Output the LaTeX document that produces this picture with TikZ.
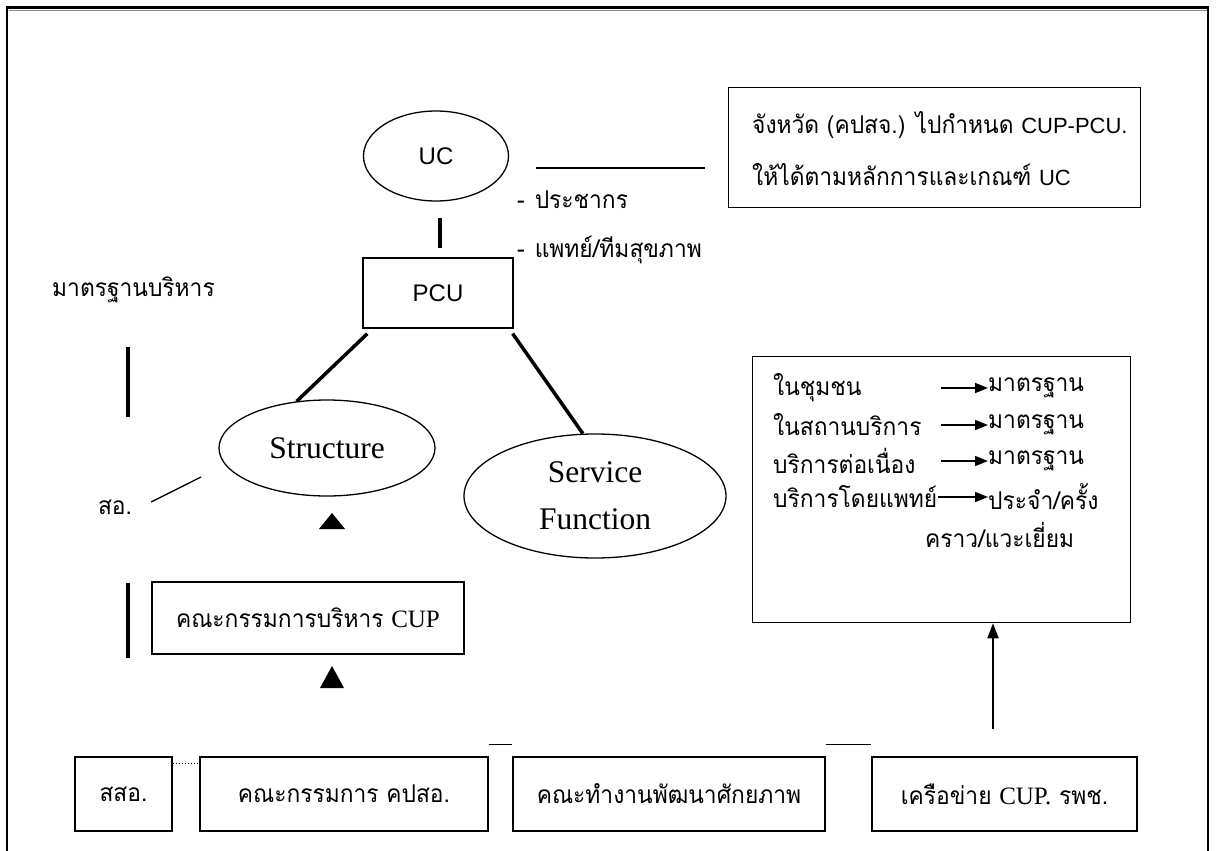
\documentclass[tikz,border=0pt]{standalone}
\usepackage{fontspec}
\newfontfamily\thaif[Script=Thai,FakeStretch=0.93]{Loma}
\newfontfamily\romf{Liberation Serif}
\newfontfamily\sansf{Liberation Sans}
\usetikzlibrary{shapes.geometric,arrows.meta}
\begin{document}
\begin{tikzpicture}[x=1pt,y=-1pt,
  box/.style={draw,line width=1.3pt,inner sep=0pt},
  oval/.style={draw,ellipse,line width=1.3pt,inner sep=0pt},
  heavy/.style={line width=3.5pt},
  light/.style={line width=1.3pt},
  thtext/.style={font=\thaif\fontsize{24.5}{30}\selectfont,inner sep=0pt},
  romtext/.style={font=\romf\fontsize{31.5}{47}\selectfont,inner sep=0pt},
  sanstext/.style={font=\sansf\fontsize{24}{28}\selectfont,inner sep=0pt},
  stdarrow/.style={line width=1.6pt,-{Triangle[length=13pt,width=10pt]}},
  marker/.style={fill=black}]
\useasboundingbox (0,0) rectangle (1216,851);
% outer frame, open at the bottom, with a faint inner rule along the top
\draw[line width=2.4pt] (7,851) -- (7,7.5) -- (1208,7.5) -- (1208,851);
\draw[line width=0.6pt,black!45] (8.5,10.5) -- (1206.5,10.5);

% UC and PCU
\node[oval,sanstext,minimum width=145,minimum height=90] (uc) at (436,156) {UC};
\node[box,sanstext,minimum width=150,minimum height=70] (pcu) at (438,293) {PCU};
\draw[heavy] ([yshift=-16pt]uc.south -| 440,0) -- ([yshift=9pt]pcu.north -| 440,0);

% population notes
\node[thtext,anchor=west] (pop) at (517,200) {-\hspace{10pt}ประชากร};
\node[thtext,anchor=west] (doc) at (517,250) {-\hspace{10pt}แพทย์/ทีมสุขภาพ};

% province box
\coordinate (provL) at (536,168);
\coordinate (provR) at (705,168);
\draw[light] (provL) -- (provR);
\node[box,anchor=north west,minimum width=412,minimum height=120] (prov) at (728,87) {};
\node[thtext,anchor=west] (prov1) at (752,125) {จังหวัด (คปสจ.) ไปกำหนด {\sansf\fontsize{22}{26}\selectfont CUP-PCU.}};
\node[thtext,anchor=west] (prov2) at (752,175) {ให้ได้ตามหลักการและเกณฑ์ {\sansf\fontsize{22}{26}\selectfont UC}};

% left column
\node[thtext,anchor=west] (mgmt) at (52,290) {มาตรฐานบริหาร};
\coordinate (barA1) at (128,347);
\coordinate (barA2) at (128,417);
\coordinate (barB1) at (128,583);
\coordinate (barB2) at (128,658);
\draw[heavy] (barA1) -- (barA2);
\draw[heavy] (barB1) -- (barB2);
\node[thtext] (so) at (115,507) {สอ.};
\coordinate (soEnd) at (201,477);
\draw[light] ([xshift=19pt,yshift=5pt]so.east) -- (soEnd);

% structure and service function
\node[oval,romtext,minimum width=216,minimum height=96] (st) at (327,448) {Structure};
\node[oval,romtext,minimum width=262,minimum height=124,align=center] (sf) at (595,496) {Service\\Function};
\draw[heavy] ([shift={(5pt,-5pt)}]pcu.south west) -- (st.123);
\draw[heavy] ([shift={(-1pt,-5pt)}]pcu.south east) -- (sf.101);

% markers
\fill[marker] (319,529) -- (345,529) -- (332,513) -- cycle;
\fill[marker] (320,688) -- (344,688) -- (332,666) -- cycle;

% management committee
\node[box,minimum width=312,minimum height=72] (cup) at (308,618)
  {\thaif\fontsize{24.5}{30}\selectfont คณะกรรมการบริหาร {\romf\fontsize{25}{30}\selectfont CUP}};

% service standards box
\node[box,anchor=north west,minimum width=378,minimum height=266] (std) at (752,356) {};
\node[thtext,anchor=west] (l1) at (773,388) {ในชุมชน};
\node[thtext,anchor=west] (l2) at (773,425) {ในสถานบริการ};
\node[thtext,anchor=west] (l3) at (773,461) {บริการต่อเนื่อง};
\node[thtext,anchor=west] (l4) at (773,497) {บริการโดยแพทย์};
\node[thtext,anchor=west] (r1) at (988,388) {มาตรฐาน};
\node[thtext,anchor=west] (r2) at (988,425) {มาตรฐาน};
\node[thtext,anchor=west] (r3) at (988,461) {มาตรฐาน};
\node[thtext,anchor=west] (r4) at (988,497) {ประจำ/ครั้ง};
\node[thtext,anchor=west] (r5) at (925,535) {คราว/แวะเยี่ยม};
\coordinate (astart) at (941,0);
\draw[stdarrow] (l1 -| astart) -- (r1.west);
\draw[stdarrow] (l2 -| astart) -- (r2.west);
\draw[stdarrow] (l3 -| astart) -- (r3.west);
\draw[stdarrow] ([xshift=1pt]l4.east) -- (r4.west);

% bottom row
\node[box,thtext,minimum width=97,minimum height=74] (ssao) at (123.5,794) {สสอ.};
\node[box,thtext,minimum width=288,minimum height=74] (kpsao) at (344,794) {คณะกรรมการ คปสอ.};
\node[box,thtext,minimum width=312,minimum height=74] (kana) at (669,794) {คณะทำงานพัฒนาศักยภาพ};
\node[box,minimum width=265,minimum height=74] (net) at (1004.5,794)
  {\thaif\fontsize{24.5}{30}\selectfont เครือข่าย {\romf\fontsize{25}{30}\selectfont CUP.} รพช.};
\draw[line width=1pt,dotted] ([yshift=-7pt]ssao.north east) -- ([yshift=-7pt]kpsao.north west);
\draw[light] ([yshift=12pt]kpsao.north east) -- ([yshift=12pt]kana.north west);
\draw[light] ([yshift=12pt]kana.north east) -- ([yshift=12pt]net.north west);
\coordinate (upFoot) at (993,729);
\draw[line width=1.6pt,-{Triangle[length=15pt,width=11pt]}] (upFoot) -- (upFoot |- std.south);
\end{tikzpicture}
\end{document}
